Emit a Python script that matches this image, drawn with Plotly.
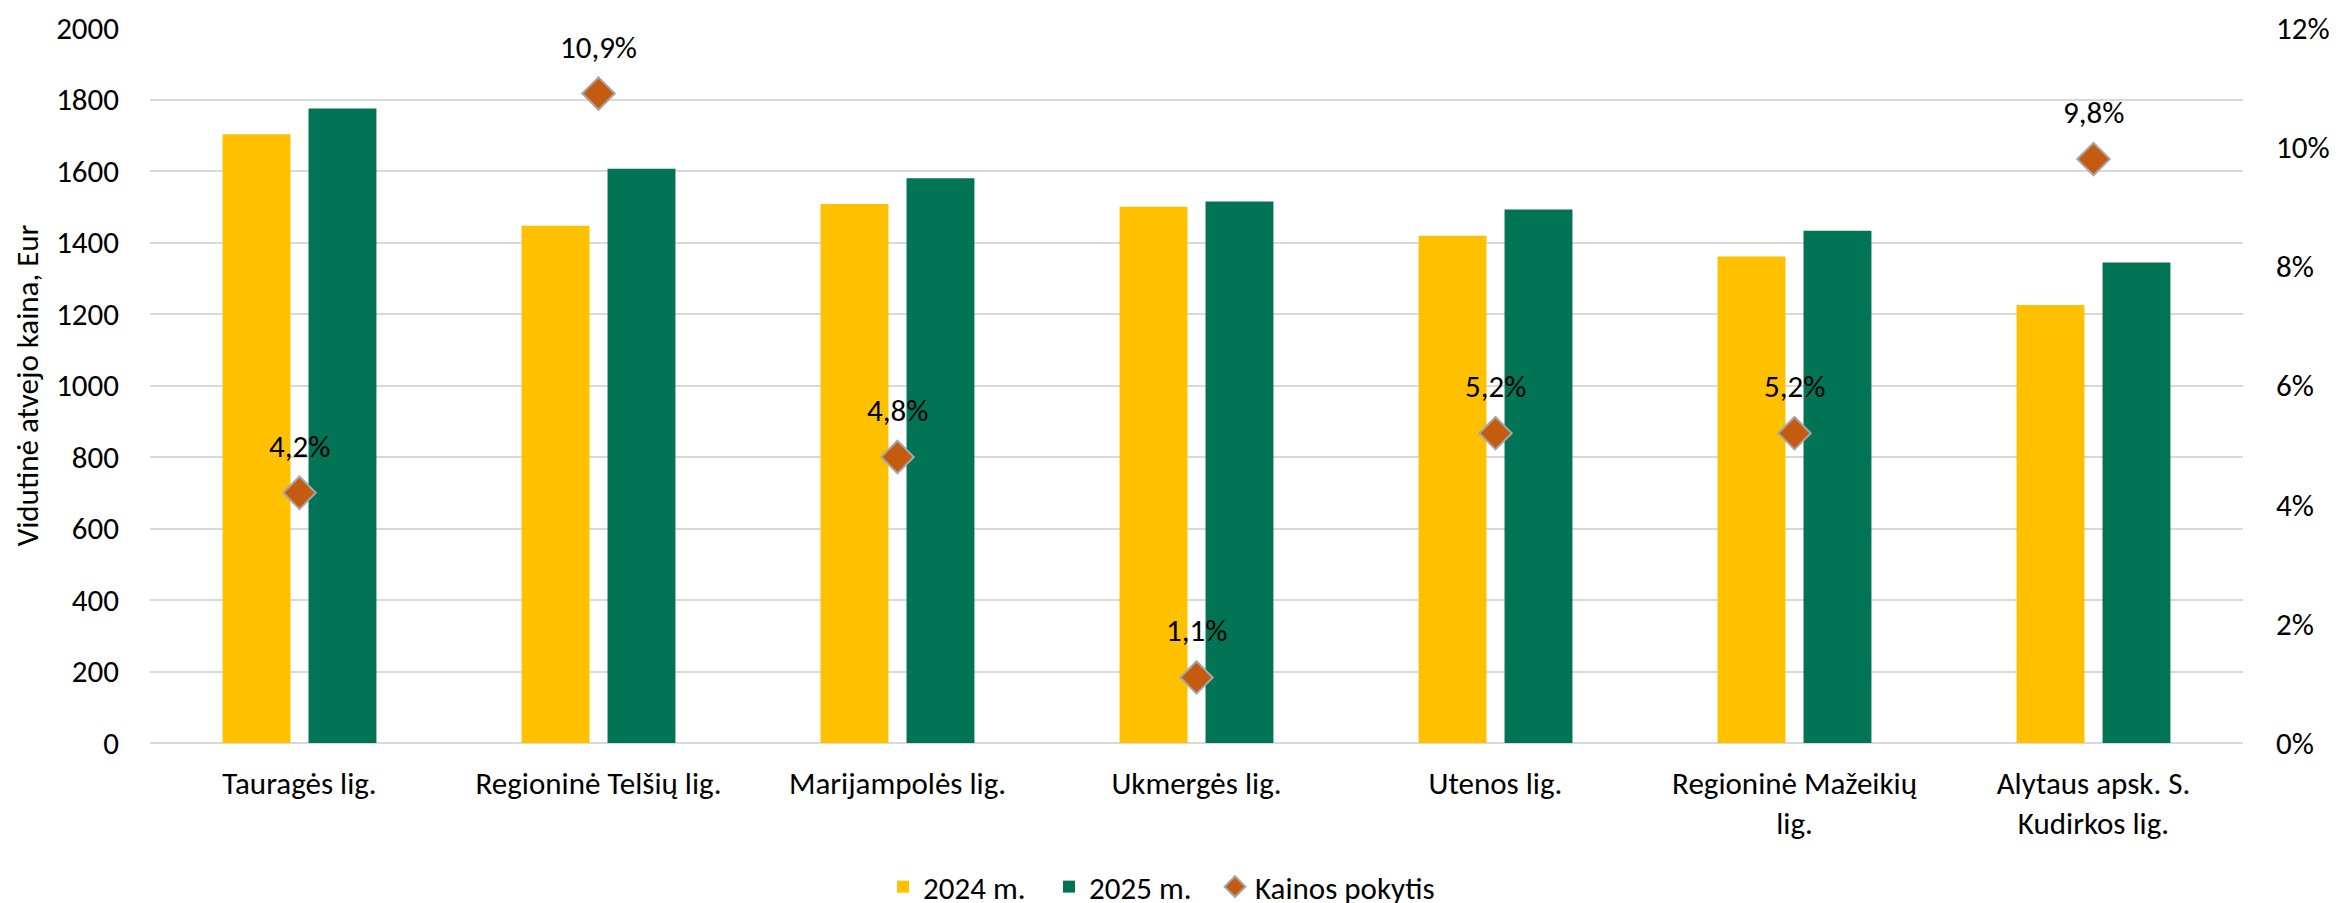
import plotly.graph_objects as go

# Duomenys
ligonines = [
    'Tauragės lig.',
    'Regioninė Telšių lig.',
    'Marijampolės lig.',
    'Ukmergės lig.',
    'Utenos lig.',
    'Regioninė Mažeikių<br>lig.',
    'Alytaus apsk. S.<br>Kudirkos lig.',
]
kaina_2024 = [1703, 1447, 1508, 1500, 1419, 1361, 1225]
kaina_2025 = [1775, 1606, 1580, 1515, 1492, 1433, 1344]
pokytis = [0.042, 0.109, 0.048, 0.011, 0.052, 0.052, 0.098]

SRIFTAS = 'Carlito, Calibri, Lato, sans-serif'
DYDIS = 31
GELTONA = '#FFC000'
ZALIA = '#007455'
ORANZINE = '#C55A11'

fig = go.Figure()

fig.add_trace(go.Bar(
    x=ligonines, y=kaina_2024, name='2024 m.', legend='legend',
    marker=dict(color=GELTONA, line=dict(width=0)),
))
fig.add_trace(go.Bar(
    x=ligonines, y=kaina_2025, name='2025 m.', legend='legend2',
    marker=dict(color=ZALIA, line=dict(width=0)),
))
fig.add_trace(go.Scatter(
    x=ligonines, y=pokytis, name='Kainos pokytis', legend='legend3',
    yaxis='y2', mode='markers',
    marker=dict(symbol='diamond', size=25, color=ORANZINE,
                line=dict(color='#A6A6A6', width=2)),
))

# Procentų etiketės virš rombų
for lig, p in zip(ligonines, pokytis):
    fig.add_annotation(
        x=lig, y=p, xref='x', yref='y2',
        text=f"{p * 100:.1f}".replace('.', ',') + '%',
        showarrow=False, yshift=47,
        font=dict(size=DYDIS, color='black', family=SRIFTAS),
    )


def legenda(x):
    return dict(
        orientation='h', xref='container', yref='container',
        x=x, xanchor='left', y=0.0266, yanchor='middle',
        font=dict(size=DYDIS), bgcolor='rgba(0,0,0,0)',
    )


fig.update_layout(
    width=2351, height=903,
    template='plotly_white',
    plot_bgcolor='white', paper_bgcolor='white',
    font=dict(family=SRIFTAS, size=DYDIS, color='black'),
    barmode='group', bargap=0.425, bargroupgap=0.21,
    margin=dict(l=142, r=116, t=20, b=168),
    xaxis=dict(showline=False, ticks='', automargin=False,
               ticklabelstandoff=19, tickfont=dict(size=DYDIS)),
    yaxis=dict(
        range=[0, 2000], dtick=200, tickformat='d',
        gridcolor='#D9D9D9', gridwidth=2,
        zeroline=True, zerolinecolor='#D9D9D9', zerolinewidth=2,
        title=dict(text='Vidutinė atvejo kaina, Eur', font=dict(size=DYDIS), standoff=16),
        ticks='', automargin=False, ticklabelstandoff=30,
        ticklabeloverflow='allow',
    ),
    yaxis2=dict(
        overlaying='y', side='right',
        range=[0, 0.12], dtick=0.02, tickformat='.0%',
        showgrid=False, zeroline=False, ticks='', automargin=False,
        ticklabelstandoff=32, ticklabeloverflow='allow',
    ),
    legend=legenda(0.3722),
    legend2=legenda(0.4428),
    legend3=legenda(0.5134),
    showlegend=True,
)

fig.write_html("out.html")
